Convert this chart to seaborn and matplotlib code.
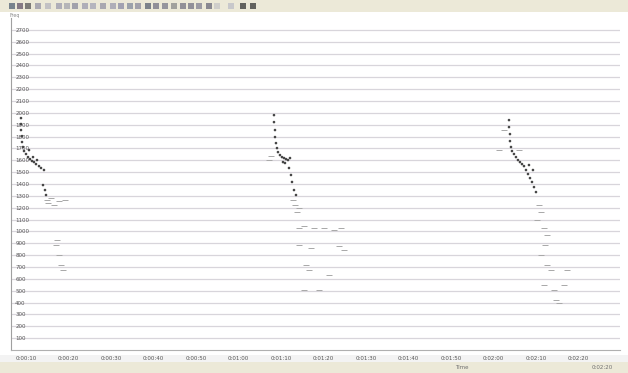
import matplotlib
matplotlib.use("Agg")
import matplotlib.pyplot as plt
from matplotlib.patches import Rectangle
import numpy as np
import pandas as pd
import seaborn as sns

sns.set_theme(style="white")
plt.rcParams["font.family"] = ["DejaVu Sans"]

# Three sweeps: time (s) and level, dense trace points
sweep1_t = [8.85, 8.85, 8.85, 9.09, 9.09, 9.32, 9.56, 10.03, 10.50, 10.97, 11.44, 11.91,
            12.38, 13.09, 13.56, 14.26, 10.74, 11.68, 12.62, 14.03, 14.50, 14.74]
sweep1_v = [19.56, 19.06, 18.55, 18.04, 17.54, 17.12, 16.78, 16.53, 16.27, 16.10, 15.94, 15.85,
            15.68, 15.51, 15.35, 15.18, 16.86, 16.27, 16.02, 13.91, 13.49, 13.07]
sweep2_t = [68.38, 68.38, 68.62, 68.62, 68.85, 69.09, 69.32, 69.79, 70.26, 70.74, 71.21, 71.68,
            72.15, 70.50, 70.97, 71.91, 72.38, 72.62, 73.09, 73.56]
sweep2_v = [19.81, 19.22, 18.55, 17.96, 17.45, 17.03, 16.69, 16.44, 16.27, 16.19, 16.10, 16.02,
            16.19, 15.85, 15.77, 15.35, 14.76, 14.17, 13.49, 13.07]
sweep3_t = [123.68, 123.68, 123.91, 123.91, 124.15, 124.38, 124.85, 125.32, 125.79, 126.26,
            126.74, 127.21, 127.68, 128.15, 128.62, 129.09, 129.56, 130.03, 128.38, 129.32]
sweep3_v = [19.39, 18.80, 18.21, 17.62, 17.12, 16.78, 16.53, 16.27, 16.02, 15.85,
            15.68, 15.51, 15.18, 14.84, 14.50, 14.17, 13.74, 13.32, 15.60, 15.18]

# Scattered low-level readings after each sweep
tail_t = [14.97, 15.21, 15.91, 16.62, 17.79, 19.21, 17.09, 17.32, 17.79, 18.26, 18.74,
          72.85, 73.32, 73.79, 74.26, 74.26, 75.44, 77.79, 80.15, 82.50, 84.15, 74.26,
          77.09, 83.68, 84.85, 75.91, 76.62, 75.44, 78.97, 81.32, 67.68, 67.20,
          130.74, 131.21, 130.26, 131.91, 132.62, 132.15, 131.21, 132.62, 133.56,
          131.91, 134.26, 134.74, 135.44, 137.32, 136.62, 122.50, 121.32, 126.03]
tail_v = [12.65, 12.39, 12.82, 12.23, 12.56, 12.65, 8.85, 9.27, 8.01, 7.17, 6.75,
          12.65, 12.23, 11.64, 11.97, 10.29, 10.46, 10.29, 10.29, 10.12, 10.29, 8.85,
          8.60, 8.77, 8.43, 7.17, 6.75, 5.06, 5.06, 6.32, 16.36, 16.02,
          12.23, 11.64, 10.96, 10.29, 9.70, 8.85, 8.01, 7.17, 6.75,
          5.48, 5.06, 4.22, 3.96, 6.75, 5.48, 18.55, 16.86, 16.86]

y_ticks = list(range(1, 28))
y_labels = [f"{v * 100}" for v in y_ticks]
x_ticks = list(range(10, 150, 10))
x_labels = [f"0:{t // 60:02d}:{t % 60:02d}" for t in x_ticks]

trace = pd.DataFrame({
    "t": sweep1_t + sweep2_t + sweep3_t,
    "v": sweep1_v + sweep2_v + sweep3_v,
})
tail = pd.DataFrame({"t": tail_t, "v": tail_v})

W, H = 628, 373
fig = plt.figure(figsize=(W / 100, H / 100), dpi=100)
fig.patch.set_facecolor("white")

# window chrome: toolbar on top, status bar below
beige = "#ece9d8"
fig.add_artist(Rectangle((0, 1 - 12 / H), 1, 12 / H, transform=fig.transFigure,
                         facecolor=beige, edgecolor="none", zorder=0))
fig.add_artist(Rectangle((0, 0), 1, 11 / H, transform=fig.transFigure,
                         facecolor=beige, edgecolor="none", zorder=0))
fig.add_artist(Rectangle((0, 11 / H), 1, 7 / H, transform=fig.transFigure,
                         facecolor="#f3f3f3", edgecolor="none", zorder=0))
icon_x = [9, 17, 25, 35, 45, 56, 64, 72, 82, 90, 100, 110, 118, 127, 135, 145, 153,
          162, 171, 180, 188, 196, 206, 214, 228, 240, 250]
icon_c = ["#5b6a7a", "#6b5f70", "#606060", "#9a9aa8", "#b8b8c0", "#a0a0b0", "#a8a8b0",
          "#9090a0", "#a0a0b0", "#a8a8b8", "#9898a8", "#a0a0b0", "#9090a8", "#8890a0",
          "#9090a0", "#606878", "#7a7a8a", "#808090", "#909090", "#7a7a88", "#7a7a8a",
          "#888898", "#707080", "#c8c8c8", "#c0c0c8", "#404040", "#404040"]
for x, c in zip(icon_x, icon_c):
    fig.add_artist(Rectangle((x / W, 1 - 9 / H), 6 / W, 6 / H, transform=fig.transFigure,
                             facecolor=c, edgecolor="none", alpha=0.8))
fig.text(10 / W, 1 - 16 / H, "Freq", fontsize=3.5, color="#8a8a8a", va="center")
fig.text(455 / W, 5.5 / H, "Time", fontsize=4, color="#707070", va="center")
fig.text(592 / W, 5.5 / H, "0:02:20", fontsize=4, color="#707070", va="center")

ax = fig.add_axes([11 / W, 23 / H, 609 / W, 332 / H])
ax.set_facecolor("white")

sns.scatterplot(data=tail, x="t", y="v", marker="_", s=20, color="#a8a8a8",
                linewidth=0.7, ax=ax, zorder=3)
sns.scatterplot(data=trace, x="t", y="v", s=3.5, color="#454545", edgecolor="none",
                ax=ax, zorder=4)

ax.set_xlim(6.5, 149.8)
ax.set_ylim(0, 28)
ax.set_yticks(y_ticks)
ax.set_yticklabels(y_labels)
ax.set_xticks(x_ticks)
ax.set_xticklabels(x_labels)
ax.set_xlabel("")
ax.set_ylabel("")
ax.grid(axis="y", color="#d8d5db", linewidth=0.9)
ax.tick_params(axis="y", length=0, pad=-3, labelsize=4, labelcolor="#555555")
ax.tick_params(axis="x", length=2, width=0.5, color="#999999", pad=2,
               labelsize=4, labelcolor="#555555")
for lab in ax.get_yticklabels():
    lab.set_horizontalalignment("left")
for side in ["top", "right"]:
    ax.spines[side].set_visible(False)
ax.spines["left"].set_color("#a0a0a0")
ax.spines["left"].set_linewidth(0.8)
ax.spines["bottom"].set_color("#b0b0b0")
ax.spines["bottom"].set_linewidth(0.8)

fig.savefig("out.png", dpi=100, facecolor="white")
